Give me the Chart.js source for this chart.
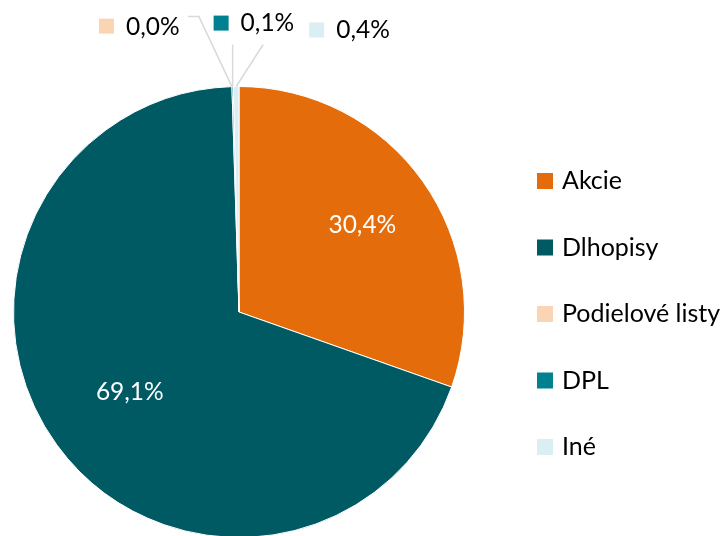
<!DOCTYPE html>
<html>
<head>
<meta charset="utf-8">
<script src="https://cdn.jsdelivr.net/npm/chart.js@4.4.1/dist/chart.umd.min.js"></script>
<style>
    html, body { margin: 0; padding: 0; background: #fff; overflow: hidden; }
    #wrap { width: 728px; height: 536px; overflow: hidden; position: relative; }
    canvas { display: block; }
</style>
</head>
<body>
<div id="wrap"><canvas id="pieChart" width="728" height="560"></canvas></div>
<script>
const labels = ['Akcie', 'Dlhopisy', 'Podielové listy', 'DPL', 'Iné'];
const values = [30.4, 69.1, 0.0, 0.1, 0.4];
const colors = ['#E46C0A', '#005A64', '#FBD4B4', '#00818F', '#DAEEF3'];

const FONT = 'Lato, "Noto Sans", sans-serif';

function fmt(v) {
    return v.toFixed(1).replace('.', ',') + '%';
}

// labels on the slices, small slices get a leader line and a coloured key
const sliceLabels = {
    id: 'sliceLabels',
    afterDatasetsDraw(chart, args, opts) {
        const ctx = chart.ctx;
        const meta = chart.getDatasetMeta(0);
        ctx.save();
        ctx.font = opts.size + 'px ' + FONT;
        ctx.textBaseline = 'middle';
        meta.data.forEach(function(arc, i) {
            const v = chart.data.datasets[0].data[i];
            const p = arc.getProps(['x', 'y', 'startAngle', 'endAngle', 'outerRadius'], true);
            const mid = (p.startAngle + p.endAngle) / 2;
            const out = opts.outside[i];
            if (!out) {
                const r = p.outerRadius * opts.inner[i];
                ctx.fillStyle = '#fff';
                ctx.textAlign = 'center';
                ctx.fillText(fmt(v), p.x + Math.cos(mid) * r, p.y + Math.sin(mid) * r);
                return;
            }
            const ox = p.x + Math.cos(mid) * p.outerRadius;
            const oy = p.y + Math.sin(mid) * p.outerRadius;
            ctx.strokeStyle = '#D9D9D9';
            ctx.lineWidth = 1.5;
            ctx.beginPath();
            ctx.moveTo(ox, oy);
            out.line.forEach(pt => ctx.lineTo(ox + pt[0], oy + pt[1]));
            ctx.stroke();
            ctx.fillStyle = chart.data.datasets[0].backgroundColor[i];
            ctx.fillRect(ox + out.box[0], oy + out.box[1], 15, 15);
            ctx.fillStyle = '#000';
            ctx.textAlign = 'left';
            ctx.fillText(fmt(v), ox + out.box[0] + 27, oy + out.box[1] + 8);
        });
        ctx.restore();
    }
};

// legend on the right
const sideLegend = {
    id: 'sideLegend',
    afterDraw(chart, args, opts) {
        const ctx = chart.ctx;
        ctx.save();
        ctx.font = opts.size + 'px ' + FONT;
        ctx.textBaseline = 'middle';
        ctx.textAlign = 'left';
        chart.data.labels.forEach(function(lab, i) {
            const y = opts.top + i * opts.step;
            ctx.fillStyle = chart.data.datasets[0].backgroundColor[i];
            ctx.fillRect(opts.left, y - 8, 16, 16);
            ctx.fillStyle = '#000';
            ctx.fillText(lab, opts.left + 25, y);
        });
        ctx.restore();
    }
};

new Chart(document.getElementById('pieChart'), {
    type: 'pie',
    data: {
        labels: labels,
        datasets: [{
            data: values,
            backgroundColor: colors,
            borderColor: '#fff',
            borderWidth: 1
        }]
    },
    options: {
        responsive: false,
        devicePixelRatio: 1,
        animation: false,
        layout: {padding: {left: 12, right: 262, top: 86, bottom: 22}},
        plugins: {
            legend: {display: false},
            tooltip: {enabled: false},
            sliceLabels: {
                size: 24.5,
                inner: [0.67, 0.6],
                outside: {
                    2: {line: [[-33, -70], [-44, -70]], box: [-133, -68]},
                    3: {line: [[0, -42]], box: [-19, -71]},
                    4: {line: [[27, -42]], box: [73, -64]}
                }
            },
            sideLegend: {size: 25, left: 537, top: 181, step: 66.5}
        }
    },
    plugins: [sliceLabels, sideLegend]
});
</script>
</body>
</html>
